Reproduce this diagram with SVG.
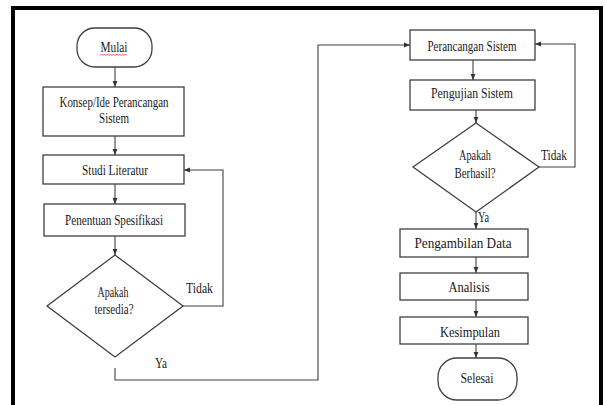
<svg xmlns="http://www.w3.org/2000/svg" width="606" height="405" viewBox="0 0 606 405">
<defs>
<marker id="ah" viewBox="0 0 10 10" refX="10" refY="5" markerWidth="6" markerHeight="6" orient="auto" markerUnits="userSpaceOnUse">
<path d="M0,1 L10,5 L0,9 z" fill="#333"/>
</marker>
<style>
.box{fill:#fff;stroke:#404040;stroke-width:1.3}
.ln{fill:none;stroke:#404040;stroke-width:1.1}
.ar{marker-end:url(#ah)}
.t{font-family:'Liberation Serif','DejaVu Serif',serif;font-size:14px;fill:#1a1a1a;text-anchor:middle}
.lb{text-anchor:start}
</style>
</defs>
<rect x="0" y="0" width="606" height="405" fill="#fff"/>
<rect x="13" y="8" width="588" height="420" fill="none" stroke="#000" stroke-width="4"/>

<g id="connectors">
<line class="ln ar" x1="115" y1="67" x2="115" y2="87"/>
<line class="ln ar" x1="115" y1="136" x2="115" y2="155"/>
<line class="ln ar" x1="115" y1="184" x2="115" y2="204"/>
<line class="ln ar" x1="115" y1="236" x2="115" y2="255"/>
<polyline class="ln ar" points="183,306 223,306 223,170 184,170"/>
<polyline class="ln ar" points="115,368 115,380 318,380 318,45 410,45"/>
<line class="ln ar" x1="473" y1="60" x2="473" y2="80"/>
<line class="ln ar" x1="476" y1="110" x2="476" y2="123"/>
<polyline class="ln ar" points="539,167 575,167 575,44 535,44"/>
<line class="ln ar" x1="476" y1="212" x2="476" y2="229"/>
<line class="ln ar" x1="476" y1="257" x2="476" y2="273"/>
<line class="ln ar" x1="476" y1="300" x2="476" y2="317"/>
<line class="ln ar" x1="476" y1="344" x2="476" y2="358"/>
<text class="t lb" x="186" y="293" textLength="27" lengthAdjust="spacingAndGlyphs">Tidak</text>
<text class="t lb" x="155" y="368" textLength="12" lengthAdjust="spacingAndGlyphs">Ya</text>
<text class="t lb" x="541" y="160" textLength="26" lengthAdjust="spacingAndGlyphs">Tidak</text>
<text class="t lb" x="478" y="222" textLength="11" lengthAdjust="spacingAndGlyphs">Ya</text>
</g>

<g id="mulai">
<rect class="box" x="77" y="28" width="75" height="39" rx="18"/>
<text class="t" x="114" y="52" textLength="27" lengthAdjust="spacingAndGlyphs">Mulai</text>
<path d="M100,55.5 l1.5,-1.5 l1.5,1.5 l1.5,-1.5 l1.5,1.5 l1.5,-1.5 l1.5,1.5 l1.5,-1.5 l1.5,1.5 l1.5,-1.5 l1.5,1.5 l1.5,-1.5 l1.5,1.5 l1.5,-1.5 l1.5,1.5 l1.5,-1.5 l1.5,1.5 l1.5,-1.5 l1.5,1.5" fill="none" stroke="#e03030" stroke-width="0.8"/>
</g>

<g id="konsep">
<rect class="box" x="43" y="87" width="141" height="49"/>
<text class="t" x="114" y="107" textLength="109" lengthAdjust="spacingAndGlyphs">Konsep/Ide Perancangan</text>
<text class="t" x="114" y="123" textLength="30" lengthAdjust="spacingAndGlyphs">Sistem</text>
</g>

<g id="studi">
<rect class="box" x="43" y="155" width="141" height="29"/>
<text class="t" x="115" y="175" textLength="66" lengthAdjust="spacingAndGlyphs">Studi Literatur</text>
</g>

<g id="penentuan">
<rect class="box" x="44" y="204" width="141" height="32"/>
<text class="t" x="114" y="225" textLength="98" lengthAdjust="spacingAndGlyphs">Penentuan Spesifikasi</text>
</g>

<g id="tersedia">
<polygon class="box" points="115,255 183,306 115,357 47,306"/>
<text class="t" x="113" y="297" textLength="31" lengthAdjust="spacingAndGlyphs">Apakah</text>
<text class="t" x="114" y="314" textLength="39" lengthAdjust="spacingAndGlyphs">tersedia?</text>
</g>

<g id="perancangan">
<rect class="box" x="410" y="30" width="125" height="30"/>
<text class="t" x="472" y="51" textLength="89" lengthAdjust="spacingAndGlyphs">Perancangan Sistem</text>
</g>

<g id="pengujian">
<rect class="box" x="410" y="80" width="125" height="30"/>
<text class="t" x="472" y="98" textLength="82" lengthAdjust="spacingAndGlyphs">Pengujian Sistem</text>
</g>

<g id="berhasil">
<polygon class="box" points="476,123 539,167 476,212 413,167"/>
<text class="t" x="475" y="160" textLength="32" lengthAdjust="spacingAndGlyphs">Apakah</text>
<text class="t" x="475" y="178" textLength="41" lengthAdjust="spacingAndGlyphs">Berhasil?</text>
</g>

<g id="pengambilan">
<rect class="box" x="400" y="229" width="128" height="28"/>
<text class="t" x="463" y="248" textLength="97" lengthAdjust="spacingAndGlyphs">Pengambilan Data</text>
</g>

<g id="analisis">
<rect class="box" x="400" y="273" width="128" height="27"/>
<text class="t" x="469" y="292" textLength="41" lengthAdjust="spacingAndGlyphs">Analisis</text>
</g>

<g id="kesimpulan">
<rect class="box" x="400" y="317" width="128" height="27"/>
<text class="t" x="470" y="337" textLength="60" lengthAdjust="spacingAndGlyphs">Kesimpulan</text>
</g>

<g id="selesai">
<rect class="box" x="438" y="358" width="79" height="42" rx="19"/>
<text class="t" x="477" y="383" textLength="33" lengthAdjust="spacingAndGlyphs">Selesai</text>
</g>
</svg>
